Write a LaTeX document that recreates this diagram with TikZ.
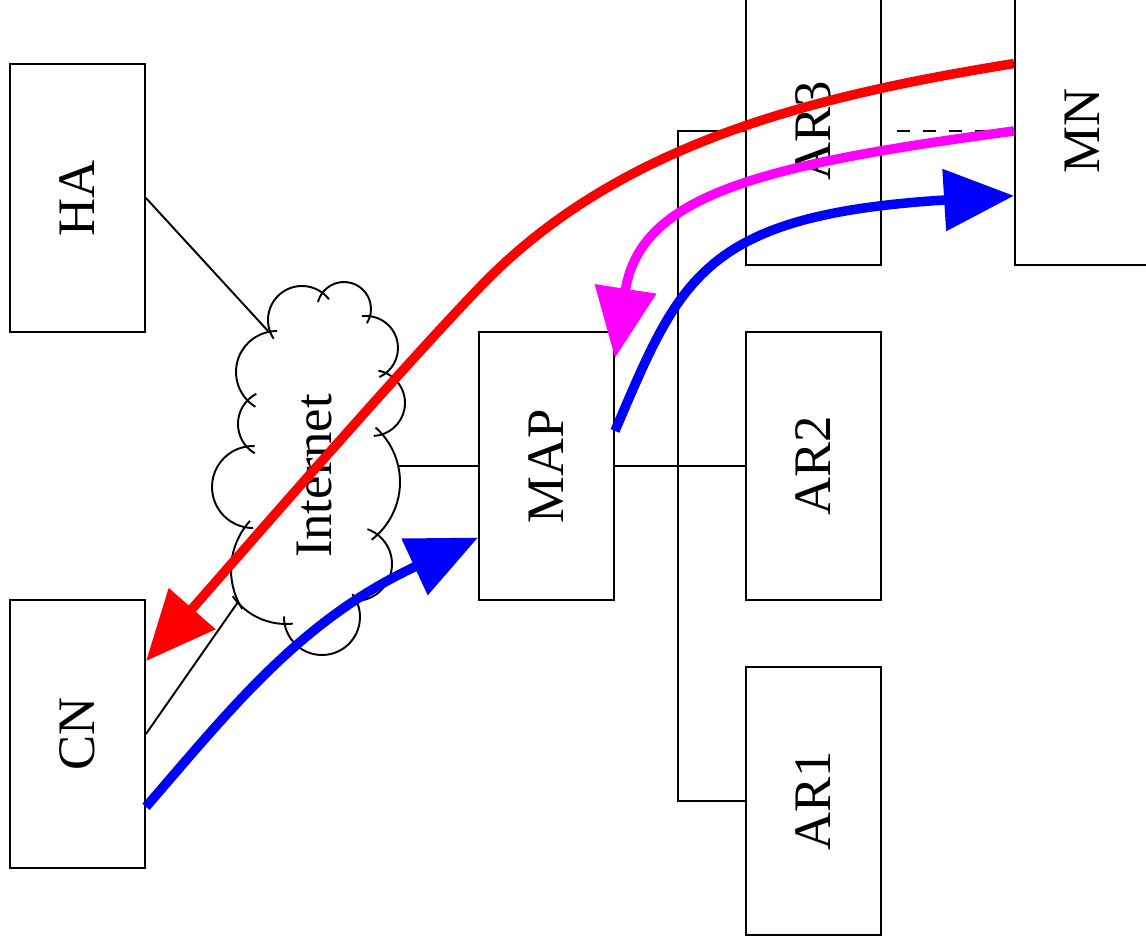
\documentclass[tikz,border=0pt]{standalone}
\usepackage{fontspec}
\setmainfont{Liberation Serif}
\usetikzlibrary{arrows.meta,calc}
\definecolor{flowred}{RGB}{255,0,0}
\definecolor{flowblue}{RGB}{0,0,255}
\definecolor{flowmagenta}{RGB}{255,0,255}

\begin{document}
\begin{tikzpicture}[x=0.02cm,y=-0.02cm,
	box/.style={draw,line width=1.1pt,minimum width=2.7cm,minimum height=5.36cm,inner sep=0pt,font=\fontsize{30}{36}\selectfont},
	link/.style={line width=1.1pt},
	flow/.style={line width=0.19cm,-{Triangle[length=1.4cm,width=1.2cm]}}]
	
	\useasboundingbox (0,0) rectangle (1146,949);
	
	% Nodes
	\node[box] (ha) at (77.5,198) {\rotatebox{90}{HA}};
	\node[box] (cn) at (77.5,734) {\rotatebox{90}{CN}};
	\node[font=\fontsize{30}{36}\selectfont,inner sep=0pt] (inet) at (314,476) {\rotatebox{90}{Internet}};
	\node[box] (map) at (546.5,466) {\rotatebox{90}{MAP}};
	\node[box] (ar1) at (813.5,801) {\rotatebox{90}{AR1}};
	\node[box] (ar2) at (813.5,466) {\rotatebox{90}{AR2}};
	\node[box] (ar3) at (813.5,131) {\rotatebox{90}{AR3}};
	\node[box] (mn) at (1082.5,131) {\rotatebox{90}{MN}};
	
	% Cloud (one arc per puff)
	\foreach \cx/\cy/\r/\s/\e in {302/320/34/160/309, 344/309/27/212/375, 366/348/32/277/411,
		372/403/33/295/433, 327/482/73/318/406, 355/564/37/302/447, 322/617/38/335/529,
		286/559/65/91/138, 304/570/73/154/216, 253/487/41/101/261, 272/424/34/134/229, 277/372/41/133/259}
		\draw[link] (\cx,\cy) ++({\s-458/\r}:\r) arc[start angle={\s-458/\r},end angle={\e+458/\r},radius=\r];
	\coordinate (inet-ha) at (268,331);
	\coordinate (inet-cn) at (238,602);
	\coordinate (inet-map) at (398,466);
	
	% Links
	\draw[link] (ha.east) -- (inet-ha);
	\draw[link] (cn.east) -- (inet-cn);
	\draw[link] (inet-map) -- (map.west);
	\draw[link] (map.east) -- (ar2.west);
	\draw[link] (ar3.west) -- ++(-67,0) |- (ar1.west);
	\draw[link,dash pattern=on 0.26cm off 0.26cm,shorten <=0.3cm] (ar3.east) -- (mn.west);
	
	% Flows
	\draw[flow,flowred] ($(mn.north west)!0.25!(mn.south west)$) .. controls (820,95) and (620,141) .. (480,287)
		.. controls (400,370) and (250,543) .. ($(cn.north east)!0.23!(cn.south east)$);
	\draw[flow,flowmagenta] (mn.west) .. controls (760,165) and (640,195) .. ($(map.north east)!0.1!(map.south east)$);
	\draw[flow,flowblue] ($(map.north east)!0.37!(map.south east)$) .. controls (680,280) and (700,215)
		.. ($(mn.north west)!0.74!(mn.south west)$);
	\draw[flow,flowblue] ($(cn.north east)!0.77!(cn.south east)$) .. controls (230,710) and (300,620)
		.. ($(map.north west)!0.765!(map.south west)$);
	
\end{tikzpicture}
\end{document}
